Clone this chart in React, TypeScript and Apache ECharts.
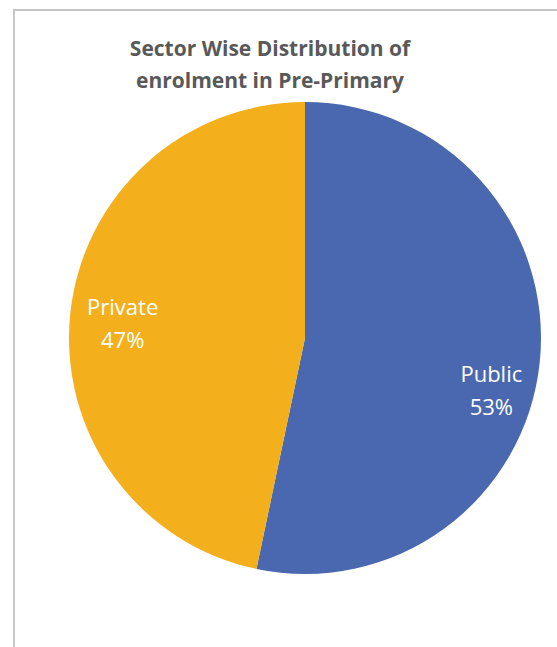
import React, { useEffect, useRef } from "react";
import * as echarts from "echarts";

const titleLines = ["Sector Wise Distribution of", "enrolment in Pre-Primary"];
const categories = ["Public", "Private"];
const shares = [53.3, 46.7];
const colors = ["#4A68AF", "#F3AF1C"];
const labelOffsets = [[66, 39], [-62, -3]];

export default function App() {
  const ref = useRef<HTMLDivElement>(null);
  useEffect(() => {
    const chart = echarts.init(ref.current!, null, { renderer: "svg" });
    chart.setOption({
      animation: false,
      backgroundColor: "#ffffff",
      title: {
        text: titleLines.join("\n"),
        left: 265,
        top: 27,
        textAlign: "center",
        textStyle: {
          fontFamily: "Open Sans",
          fontWeight: "bold",
          fontSize: 21,
          lineHeight: 32,
          color: "#595959",
        },
      },
      graphic: [
        {
          type: "rect",
          shape: { x: 14, y: 10, width: 700, height: 800 },
          style: { fill: "none", stroke: "#c6c6c6", lineWidth: 2 },
          silent: true,
        },
      ],
      series: [
        {
          type: "pie",
          center: [305, 338],
          radius: [0, 236],
          startAngle: 90,
          clockwise: true,
          label: {
            show: true,
            position: "inner",
            color: "#ffffff",
            fontFamily: "Open Sans",
            fontSize: 22,
            lineHeight: 33,
            formatter: (p: any) => `${p.name}\n${Math.round(p.percent)}%`,
          },
          labelLine: { show: false },
          itemStyle: { borderWidth: 0 },
          emphasis: { disabled: true },
          data: categories.map((c, i) => ({
            name: c,
            value: shares[i],
            itemStyle: { color: colors[i] },
            label: { offset: labelOffsets[i] },
          })),
        },
      ],
    });
    return () => chart.dispose();
  }, []);
  return (
    <div
      ref={ref}
      style={{ position: "absolute", left: 0, top: 0, width: 557, height: 647 }}
    />
  );
}
